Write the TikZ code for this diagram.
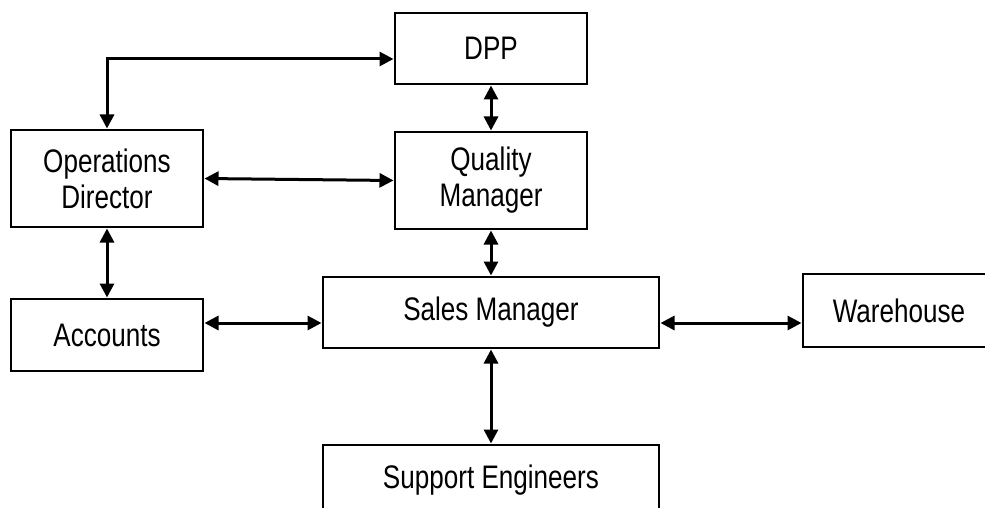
\documentclass[tikz,border=0pt]{standalone}
\usepackage{fontspec}
\setmainfont{Liberation Sans}[FakeStretch=0.8]
\usetikzlibrary{arrows.meta}
\tikzset{
  box/.style={draw=black, line width=2pt, fill=white, inner sep=0pt, align=center,
    font=\fontsize{32.6}{36}\selectfont},
  link/.style={line width=3pt, {Triangle[length=14pt,width=14pt]}-{Triangle[length=14pt,width=14pt]}, shorten <=0.5pt, shorten >=0.5pt}
}
\begin{document}
\begin{tikzpicture}[x=1pt,y=-1pt]
\useasboundingbox (0,0) rectangle (985,508);
\clip (0,0) rectangle (985,508);
\node[box, minimum width=192pt, minimum height=71pt] (dpp) at (491,48.5) {DPP};
\node[box, minimum width=192pt, minimum height=97pt] (qm) at (491,180.5) {Quality\\Manager};
\node[box, minimum width=192pt, minimum height=97pt] (ops) at (107,178.5) {Operations\\Director};
\node[box, minimum width=192pt, minimum height=72pt] (acc) at (107,335) {Accounts};
\node[box, minimum width=336pt, minimum height=71pt] (sales) at (491,312.5) {Sales Manager};
\node[box, minimum width=192pt, minimum height=73pt] (wh) at (899,310.5) {Warehouse};
\node[box, minimum width=336pt, minimum height=70pt] (sup) at (491,480) {Support Engineers};
\coordinate (ytop) at (0,59);
\coordinate (ymid) at (0,323);
\draw[link] (ops.north) |- (dpp.west |- ytop);
\draw[link] (ops.east) -- (qm.west);
\draw[link] (dpp.south) -- (qm.north);
\draw[link] (ops.south) -- (acc.north);
\draw[link] (qm.south) -- (sales.north);
\draw[link] (acc.east |- ymid) -- (sales.west |- ymid);
\draw[link] (sales.east |- ymid) -- (wh.west |- ymid);
\draw[link] (sales.south) -- (sup.north);
\end{tikzpicture}
\end{document}
